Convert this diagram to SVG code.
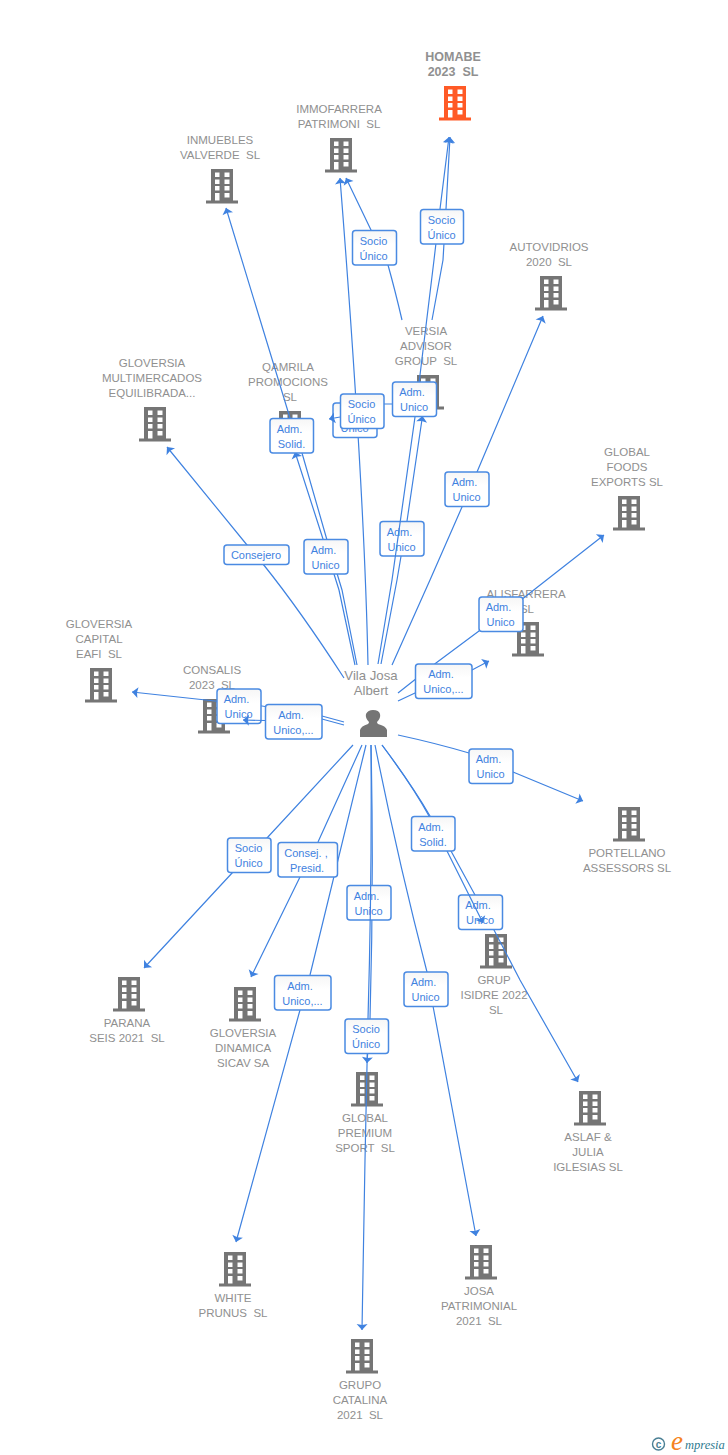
<svg xmlns="http://www.w3.org/2000/svg" width="728" height="1455" viewBox="0 0 728 1455">
<style>
.n{font:11.5px "Liberation Sans",Arial,sans-serif;fill:#909090;text-anchor:middle;white-space:pre}
.b{font-weight:bold;font-size:12.5px}
.p{font-size:13.2px}
.e{fill:none;stroke:#3f82e0;stroke-width:1.2}
.ar{marker-end:url(#a)}
.l rect{fill:url(#g);stroke:#4a8ae2;stroke-width:1.5}
.l text{font:11px "Liberation Sans",Arial,sans-serif;fill:#3f82e0;text-anchor:middle;white-space:pre}
</style>
<defs>
<linearGradient id="g" x1="0" y1="0" x2="0" y2="1"><stop offset="0" stop-color="#f6f6f6"/><stop offset=".4" stop-color="#fff"/></linearGradient>
<marker id="a" markerUnits="userSpaceOnUse" markerWidth="14" markerHeight="14" refX="6" refY="6" orient="auto" overflow="visible"><path d="M0,0.5L6,6L0,11.5L1,6Z" fill="#3f82e0"/></marker>
<g id="bld">
<path d="M-11,0H11V31.5H16V34.500H-16V31.500H-11ZM-7,3.5V8H-2.5V3.5ZM2.5,3.5V8H7.5V3.5ZM-7,10.5V15H-2.5V10.5ZM2.5,10.5V15H7.5V10.5ZM-7,17V21.5H-2.5V17ZM2.5,17V21.5H7.5V17ZM-7,24V31.5H-2.5V24ZM2.5,24V28.5H7.5V24Z" fill-rule="evenodd"/>
</g>
</defs>
<rect width="728" height="1455" fill="#fff"/>
<g id="nodes" fill="#757575">
<g id="homabe"><use href="#bld" x="455" y="86" fill="#ff5a26"/><text class="n b" x="453" y="61">HOMABE</text><text class="n b" x="453" y="76">2023  SL</text></g>
<g id="immofarrera"><use href="#bld" x="341" y="138"/><text class="n" x="339" y="113">IMMOFARRERA</text><text class="n" x="339" y="128">PATRIMONI  SL</text></g>
<g id="inmuebles"><use href="#bld" x="222" y="169"/><text class="n" x="220" y="144">INMUEBLES</text><text class="n" x="220" y="159">VALVERDE  SL</text></g>
<g id="autovidrios"><use href="#bld" x="551" y="276"/><text class="n" x="549" y="251">AUTOVIDRIOS</text><text class="n" x="549" y="266">2020  SL</text></g>
<g id="gloversia-multi"><use href="#bld" x="155" y="407"/><text class="n" x="152" y="367">GLOVERSIA</text><text class="n" x="152" y="382">MULTIMERCADOS</text><text class="n" x="152" y="397">EQUILIBRADA...</text></g>
<g id="qamrila"><use href="#bld" x="290" y="411"/><text class="n" x="288" y="371">QAMRILA</text><text class="n" x="288" y="386">PROMOCIONS</text><text class="n" x="290" y="401">SL</text></g>
<g id="versia"><use href="#bld" x="428" y="375"/><text class="n" x="426" y="335">VERSIA</text><text class="n" x="426" y="350">ADVISOR</text><text class="n" x="426" y="365">GROUP  SL</text></g>
<g id="global-foods"><use href="#bld" x="629" y="496"/><text class="n" x="627" y="456">GLOBAL</text><text class="n" x="627" y="471">FOODS</text><text class="n" x="627" y="486">EXPORTS SL</text></g>
<g id="alisfarrera"><use href="#bld" x="528" y="622"/><text class="n" x="526" y="598">ALISFARRERA</text><text class="n" x="527" y="613">SL</text></g>
<g id="gloversia-capital"><use href="#bld" x="101" y="668"/><text class="n" x="99" y="628">GLOVERSIA</text><text class="n" x="99" y="643">CAPITAL</text><text class="n" x="99" y="658">EAFI  SL</text></g>
<g id="consalis"><use href="#bld" x="214" y="699"/><text class="n" x="212" y="674">CONSALIS</text><text class="n" x="212" y="689">2023  SL</text></g>
<g id="portellano"><use href="#bld" x="629" y="807"/><text class="n" x="627" y="857">PORTELLANO</text><text class="n" x="627" y="872">ASSESSORS SL</text></g>
<g id="grup-isidre"><use href="#bld" x="496" y="934"/><text class="n" x="494" y="984">GRUP</text><text class="n" x="494" y="999">ISIDRE 2022</text><text class="n" x="496" y="1014">SL</text></g>
<g id="aslaf"><use href="#bld" x="590" y="1091"/><text class="n" x="588" y="1141">ASLAF &amp;</text><text class="n" x="588" y="1156">JULIA</text><text class="n" x="588" y="1171">IGLESIAS SL</text></g>
<g id="parana"><use href="#bld" x="129" y="977"/><text class="n" x="127" y="1027">PARANA</text><text class="n" x="127" y="1042">SEIS 2021  SL</text></g>
<g id="gloversia-dinamica"><use href="#bld" x="245" y="987"/><text class="n" x="243" y="1037">GLOVERSIA</text><text class="n" x="243" y="1052">DINAMICA</text><text class="n" x="243" y="1067">SICAV SA</text></g>
<g id="global-premium"><use href="#bld" x="367" y="1072"/><text class="n" x="365" y="1122">GLOBAL</text><text class="n" x="365" y="1137">PREMIUM</text><text class="n" x="365" y="1152">SPORT  SL</text></g>
<g id="white-prunus"><use href="#bld" x="235" y="1252"/><text class="n" x="233" y="1302">WHITE</text><text class="n" x="233" y="1317">PRUNUS  SL</text></g>
<g id="josa"><use href="#bld" x="481" y="1245"/><text class="n" x="479" y="1295">JOSA</text><text class="n" x="479" y="1310">PATRIMONIAL</text><text class="n" x="479" y="1325">2021  SL</text></g>
<g id="grupo-catalina"><use href="#bld" x="362" y="1339"/><text class="n" x="360" y="1389">GRUPO</text><text class="n" x="360" y="1404">CATALINA</text><text class="n" x="360" y="1419">2021  SL</text></g>
<g id="vila-josa"><text class="n p" x="371" y="680">Vila Josa</text><text class="n p" x="371" y="695">Albert</text><path d="M360,737V730Q361,726 368,724Q369,723 369,722Q365,718 366,714Q368,710 373,710Q379,710 380,714Q381,718 377,722Q377,723 378,724Q386,726 387,730V737Z"/></g>
</g>
<g id="connectors">
<path class="e ar" d="M382,745Q412,785 430,816L451,851L475,895L494,930L520,980L578,1082"/>
<path class="e ar" d="M381,664L397,580L407,521L422.500,416"/>
<path class="e ar" d="M371,745Q374,880 370,1019L367,1063"/>
<g class="l" transform="translate(380,521.5)"><rect width="44" height="34.5" rx="3"/><text x="19.500" y="14">Adm.</text><text x="21.500" y="29">Unico</text></g>
<g class="l" transform="translate(347,885.500)"><rect width="44" height="34.500" rx="3"/><text x="19.500" y="14">Adm.</text><text x="21.500" y="29">Unico</text></g>
<g class="l" transform="translate(458.500,895)"><rect width="44" height="34.500" rx="3"/><text x="19.500" y="14">Adm.</text><text x="21.500" y="29">Unico</text></g>
<path class="e ar" d="M378,664L392,580L415,417L420,375L434,260L440,209L449,137"/>
<path class="e ar" d="M432,320L443,260L446,209L450,137"/>
<path class="e ar" d="M402,320Q395,290 388,265L371,230L346,178"/>
<path class="e ar" d="M368,665C365,520 352,330 340,178"/>
<path class="e ar" d="M357,665L342,590L327,540L302,453L290,418L226,208"/>
<path class="e ar" d="M355,665L339,590L323,539L295,452"/>
<path class="e ar" d="M392,665L430,580L462,507L477,472L543,316"/>
<path class="e ar" d="M344,678Q300,610 263,564L247,545L167,447"/>
<path class="e ar" d="M398,693L436,663L479,631L521,600L604,535"/>
<path class="e ar" d="M398,701L415,693L472,670L489,661"/>
<path class="e ar" d="M344,722L322,716L262,706L215,701L132,692"/>
<path class="e ar" d="M398,735Q435,743 469,753L513,772L583,801"/>
<path class="e ar" d="M353,745L267,838L233,872L144,968"/>
<path class="e ar" d="M362,745L318,842L300,877L251,977"/>
<path class="e ar" d="M366,745L310,975L300,1010L236,1242"/>
<path class="e ar" d="M371,745Q372,880 368,1019L365,1160L362,1330"/>
<path class="e ar" d="M375,745Q398,860 427,972L433,1006L476,1236"/>
<path class="e ar" d="M382,745Q412,785 429,816L447,851L483,923"/>
<g class="l" transform="translate(420.500,209.500)"><rect width="43" height="34.500" rx="3"/><text x="21" y="14">Socio</text><text x="21" y="29">Único</text></g>
<g class="l" transform="translate(352.500,230.500)"><rect width="44" height="34.500" rx="3"/><text x="21" y="14">Socio</text><text x="21" y="29">Único</text></g>
<g class="l" transform="translate(333,403)"><rect width="44" height="34.500" rx="3"/><text x="19.500" y="14">Adm.</text><text x="21.500" y="29">Unico</text></g>
<path class="e ar" d="M416,404H375L340,417L329,419"/>
<g class="l" transform="translate(340.500,394)"><rect width="43.500" height="34.500" rx="3"/><text x="21" y="14">Socio</text><text x="21" y="29">Único</text></g>
<g class="l" transform="translate(392.500,382)"><rect width="44" height="34.500" rx="3"/><text x="19.500" y="14">Adm.</text><text x="21.500" y="29">Unico</text></g>
<g class="l" transform="translate(270,418.500)"><rect width="43.500" height="34.500" rx="3"/><text x="19.500" y="14">Adm.</text><text x="21.500" y="29">Solid.</text></g>
<g class="l" transform="translate(445,472)"><rect width="44" height="34.500" rx="3"/><text x="19.500" y="14">Adm.</text><text x="21.500" y="29">Unico</text></g>
<g class="l" transform="translate(304,539.500)"><rect width="44" height="34.500" rx="3"/><text x="19.500" y="14">Adm.</text><text x="21.500" y="29">Unico</text></g>
<g class="l" transform="translate(224,545)"><rect width="65" height="19.500" rx="3"/><text x="32" y="14">Consejero</text></g>
<g class="l" transform="translate(479,597)"><rect width="44" height="34.500" rx="3"/><text x="19.500" y="14">Adm.</text><text x="21.500" y="29">Unico</text></g>
<g class="l" transform="translate(415.500,664)"><rect width="56.500" height="34.500" rx="3"/><text x="25.500" y="14">Adm.</text><text x="28" y="29">Unico,...</text></g>
<g class="l" transform="translate(217,689)"><rect width="44" height="34.500" rx="3"/><text x="19.500" y="14">Adm.</text><text x="21.500" y="29">Unico</text></g>
<path class="e ar" d="M344,725L322,719L265,720.500L243,720"/>
<g class="l" transform="translate(265.500,704.500)"><rect width="56.500" height="34.500" rx="3"/><text x="25.500" y="14">Adm.</text><text x="28" y="29">Unico,...</text></g>
<g class="l" transform="translate(469,749)"><rect width="44" height="34.500" rx="3"/><text x="19.500" y="14">Adm.</text><text x="21.500" y="29">Unico</text></g>
<g class="l" transform="translate(227.500,838)"><rect width="43.500" height="34.500" rx="3"/><text x="21" y="14">Socio</text><text x="21" y="29">Único</text></g>
<g class="l" transform="translate(278,842.500)"><rect width="59.500" height="34.500" rx="3"/><text x="28" y="14">Consej. ,</text><text x="29" y="29">Presid.</text></g>
<g class="l" transform="translate(411.500,816.500)"><rect width="43.500" height="34.500" rx="3"/><text x="19.500" y="14">Adm.</text><text x="21.500" y="29">Solid.</text></g>
<g class="l" transform="translate(274.500,975.500)"><rect width="56.500" height="34.500" rx="3"/><text x="25.500" y="14">Adm.</text><text x="28" y="29">Unico,...</text></g>
<g class="l" transform="translate(404,972)"><rect width="44" height="34.500" rx="3"/><text x="19.500" y="14">Adm.</text><text x="21.500" y="29">Unico</text></g>
<g class="l" transform="translate(345,1019)"><rect width="43.500" height="34.500" rx="3"/><text x="21" y="14">Socio</text><text x="21" y="29">Único</text></g>
</g>
<g id="footer">
<circle cx="658.500" cy="1444" r="6" fill="none" stroke="#4a7f94" stroke-width="1.4"/>
<text x="658.500" y="1447.500" font-family="'Liberation Sans',sans-serif" font-size="10" font-weight="bold" fill="#4a7f94" text-anchor="middle">c</text>
<text x="671" y="1450" font-family="'Liberation Serif',serif" font-style="italic" font-size="27" fill="#f58220">e</text>
<text x="685" y="1449" font-family="'Liberation Serif',serif" font-style="italic" font-size="12.500" fill="#2f7a90">mpresia</text>
</g>
</svg>
